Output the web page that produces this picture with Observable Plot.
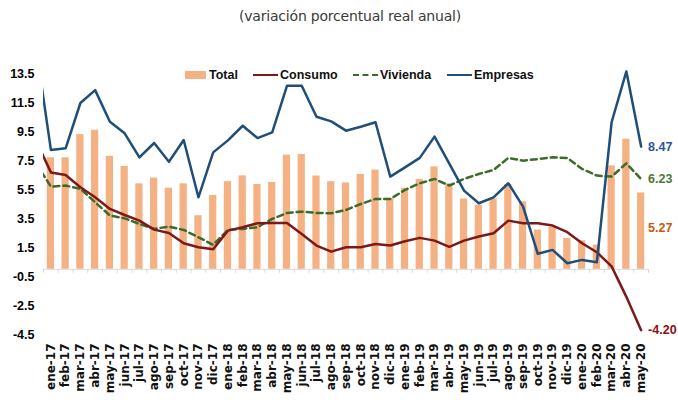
<!DOCTYPE html>
<html>
<head>
<meta charset="utf-8">
<script src="https://cdn.jsdelivr.net/npm/d3@7"></script>
<script src="https://cdn.jsdelivr.net/npm/@observablehq/plot@0.6"></script>
<style>
  body { margin: 0; background: #fff; }
  #wrap { position: relative; width: 678px; height: 400px; overflow: hidden; font-family: "DejaVu Sans", sans-serif; }
  #subtitle { position: absolute; top: 8px; left: 0; width: 700px; text-align: center; font-size: 14px; color: #3a3a3a; letter-spacing: -0.2px; }
  #legend { position: absolute; top: 66px; left: 0; height: 18px; width: 678px; font-family: "Liberation Sans", Arial, sans-serif; font-size: 12.5px; font-weight: bold; color: #111; }
  .item { position: absolute; top: 0; display: flex; align-items: center; height: 18px; white-space: nowrap; }
  .sw { display: inline-block; width: 21px; height: 8px; margin-right: 3px; }
  .ln { display: inline-block; width: 25px; height: 0; margin-right: 2px; }
  #chart { position: absolute; top: 0; left: 0; }
  #chart svg { overflow: visible; }
</style>
</head>
<body>
<div id="wrap">
  <div id="chart"></div>
  <div id="subtitle">(variación porcentual real anual)</div>
  <div id="legend"></div>
</div>
<script>
// ---- Data ----
const months = ["ene-17","feb-17","mar-17","abr-17","may-17","jun-17","jul-17","ago-17","sep-17","oct-17","nov-17","dic-17",
  "ene-18","feb-18","mar-18","abr-18","may-18","jun-18","jul-18","ago-18","sep-18","oct-18","nov-18","dic-18",
  "ene-19","feb-19","mar-19","abr-19","may-19","jun-19","jul-19","ago-19","sep-19","oct-19","nov-19","dic-19",
  "ene-20","feb-20","mar-20","abr-20","may-20"];

const total = [7.7, 7.7, 9.3, 9.6, 7.8, 7.1, 5.9, 6.3, 5.6, 5.9, 3.7, 5.1,
  6.05, 6.45, 5.86, 6.0, 7.88, 7.93, 6.44, 6.05, 5.96, 6.55, 6.85, 4.9,
  5.6, 6.2, 7.07, 5.9, 4.85, 4.43, 4.85, 5.85, 4.66, 2.71, 2.89, 2.13,
  1.97, 1.67, 7.14, 8.98, 5.27];

const consumo = [6.69, 6.51, 5.66, 4.97, 4.17, 3.75, 3.36, 2.74, 2.51, 1.8, 1.52, 1.38,
  2.67, 2.9, 3.18, 3.2, 3.2, 2.44, 1.64, 1.22, 1.52, 1.52, 1.75, 1.64,
  1.94, 2.17, 1.98, 1.55, 1.98, 2.26, 2.49, 3.36, 3.18, 3.18, 3.02, 2.56,
  1.8, 1.18, 0.2, -1.9, -4.20];

const vivienda = [5.71, 5.78, 5.55, 4.63, 3.71, 3.52, 3.13, 2.79, 2.95, 2.72, 2.21, 1.69,
  2.73, 2.79, 2.9, 3.48, 3.89, 3.98, 3.89, 3.87, 4.1, 4.51, 4.86, 4.86,
  5.48, 5.94, 6.24, 5.78, 6.24, 6.58, 6.86, 7.69, 7.5, 7.61, 7.73, 7.69,
  6.93, 6.47, 6.4, 7.31, 6.23];

const empresas = [8.24, 8.35, 11.48, 12.37, 10.19, 9.39, 7.73, 8.72, 7.43, 8.93, 4.97, 8.07,
  8.9, 9.91, 9.06, 9.45, 12.67, 12.67, 10.53, 10.21, 9.57, 9.84, 10.15, 6.4,
  7.04, 7.69, 9.16, 7.3, 5.43, 4.56, 4.97, 5.94, 4.33, 1.07, 1.34, 0.42,
  0.65, 0.49, 10.15, 13.66, 8.47];

// previous month (dic-16), only partly visible at the left edge of the plot
const prevMonth = "dic-16";
const prevConsumo = 8.87;
const prevVivienda = 7.31;
const prevEmpresas = 15.3;

const yTicks = [-4.5, -2.5, -0.5, 1.5, 3.5, 5.5, 7.5, 9.5, 11.5, 13.5];

const seriesNames = ["Total", "Consumo", "Vivienda", "Empresas"];
const colors = {Total: "#F4B183", Consumo: "#7B1A1A", Vivienda: "#3D6B2A", Empresas: "#1F4E79"};
const labelColors = {Total: "#C55A11", Consumo: "#8B1010", Vivienda: "#4E7A30", Empresas: "#2F5597"};

// ---- Build tables ----
const rows = months.map((m, i) => ({i, m, total: total[i], consumo: consumo[i], vivienda: vivienda[i], empresas: empresas[i]}));
const lineRows = [{i: -1, m: prevMonth, consumo: prevConsumo, vivienda: prevVivienda, empresas: prevEmpresas}, ...rows];
const last = rows[rows.length - 1];
const bounds = rows.map(d => d.i - 0.5).concat([rows.length - 0.5]);
const labelFont = "Liberation Sans, Arial, sans-serif";

const chart = Plot.plot({
  width: 678,
  height: 400,
  marginTop: 66,
  marginBottom: 66,
  marginLeft: 43,
  marginRight: 30,
  x: {domain: [-0.5, rows.length - 0.5]},
  y: {domain: [-4.5, 14]},
  style: {background: "transparent", fontFamily: "DejaVu Sans, sans-serif", overflow: "visible"},
  marks: [
    Plot.rectY(rows, {x1: d => d.i - 0.245, x2: d => d.i + 0.245, y: "total", fill: colors.Total}),
    Plot.ruleY([0], {stroke: "#d9d9d9", strokeWidth: 1}),
    Plot.ruleX(bounds, {x: d => d, y1: 0, y2: 0, insetBottom: -4, stroke: "#d9d9d9", strokeWidth: 1}),
    Plot.line(lineRows, {x: "i", y: "vivienda", stroke: colors.Vivienda, strokeWidth: 2.5, strokeDasharray: "6,4", clip: true}),
    Plot.line(lineRows, {x: "i", y: "consumo", stroke: colors.Consumo, strokeWidth: 2.5, clip: true}),
    Plot.line(lineRows, {x: "i", y: "empresas", stroke: colors.Empresas, strokeWidth: 2.5, clip: true}),
    Plot.text([last], {x: "i", y: "empresas", text: d => d.empresas.toFixed(2), dx: 7, textAnchor: "start", fill: labelColors.Empresas, fontWeight: "bold", fontSize: 12.5, fontFamily: labelFont}),
    Plot.text([last], {x: "i", y: "vivienda", text: d => d.vivienda.toFixed(2), dx: 7, textAnchor: "start", fill: labelColors.Vivienda, fontWeight: "bold", fontSize: 12.5, fontFamily: labelFont}),
    Plot.text([last], {x: "i", y: "total", text: d => d.total.toFixed(2), dx: 7, dy: 35, textAnchor: "start", fill: labelColors.Total, fontWeight: "bold", fontSize: 12.5, fontFamily: labelFont}),
    Plot.text([last], {x: "i", y: "consumo", text: d => d.consumo.toFixed(2), dx: 7, textAnchor: "start", fill: labelColors.Consumo, fontWeight: "bold", fontSize: 12.5, fontFamily: labelFont}),
    Plot.axisY(yTicks, {tickSize: 0, tickPadding: 9, tickFormat: d => d.toFixed(1), fontWeight: "bold", fontSize: 12.5, fontFamily: labelFont, fill: "#000", label: null}),
    Plot.axisX(rows.map(d => d.i), {anchor: "bottom", tickSize: 0, tickPadding: 9, tickRotate: -90, tickFormat: i => months[i], fontSize: 12, fontWeight: "bold", fill: "#111", label: null})
  ]
});
document.getElementById("chart").appendChild(chart);

// ---- Legend ----
const legend = document.getElementById("legend");
const legendLeft = {Total: 185, Consumo: 253, Vivienda: 353, Empresas: 447};
seriesNames.forEach(name => {
  const item = document.createElement("div");
  item.className = "item";
  item.style.left = legendLeft[name] + "px";
  const sw = document.createElement("span");
  if (name === "Total") {
    sw.className = "sw";
    sw.style.background = colors.Total;
  } else {
    sw.className = "ln";
    sw.style.borderTop = "2.5px " + (name === "Vivienda" ? "dashed " : "solid ") + colors[name];
  }
  item.appendChild(sw);
  const t = document.createElement("span");
  t.textContent = name;
  item.appendChild(t);
  legend.appendChild(item);
});
</script>
</body>
</html>
